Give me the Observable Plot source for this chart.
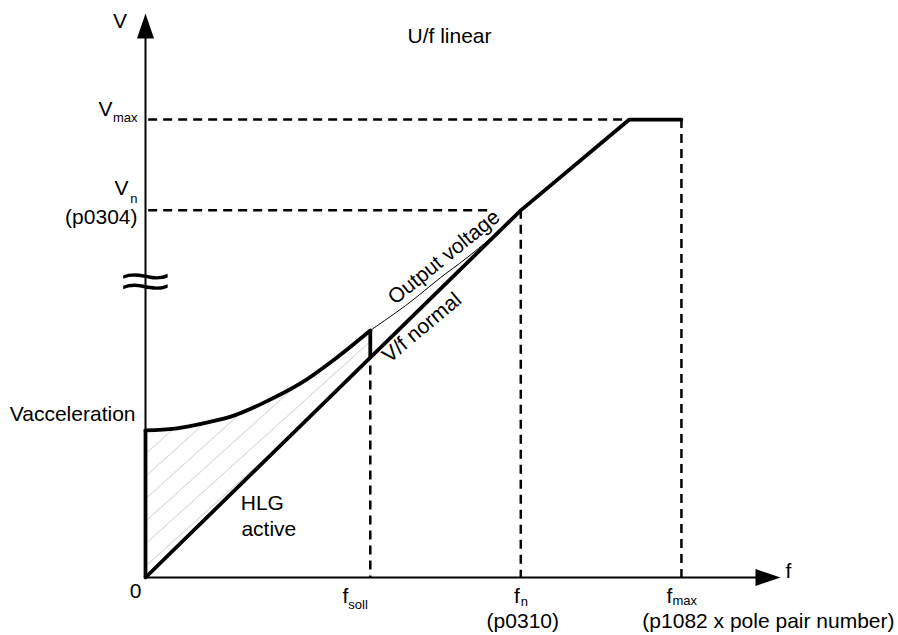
<!DOCTYPE html>
<html><head><meta charset="utf-8">
<script src="https://cdn.jsdelivr.net/npm/d3@7"></script>
<script src="https://cdn.jsdelivr.net/npm/@observablehq/plot@0.6"></script>
<style>html,body{margin:0;padding:0;background:#fff;} svg{display:block;}</style>
</head><body><div id="chart"></div>
<script>
// ---- values (schematic units) ----
const fSoll = 35.4, fN = 59.1, fMax = 84.4, fVmaxReached = 76.2;
const vAccel = 26.1, vN = 65.1, vMax = 81.2, vBreak = 52.3;
const fAxisEnd = 100, vAxisEnd = 100;
// V/f normal characteristic
const vfF = [0, fN, fVmaxReached, fMax];
const vfV = [0, vN, vMax, vMax];
// output voltage while HLG active (thick) and its continuation (thin)
const outF = [0, 4.7, 9.8, 13.9, 18.1, 24.4, 29.9, fSoll];
const outV = [26.1, 26.4, 27.5, 28.7, 30.7, 34.4, 38.8, 43.8];
const outThinF = [fSoll, 41.3, 46.5, 50.4, 54.3, 56.7];
const outThinV = [43.8, 48.5, 53.2, 56.5, 60.1, 62.5];
// texts
const title = "U/f linear";
const axisNames = ["V", "f"];
const breakSymbol = "\u2248";
const vLabels = ["V", "max", "V", "n", "(p0304)", "Vacceleration", "0"];
const fLabels = ["f", "soll", "f", "n", "(p0310)", "f", "max", "(p1082 x pole pair number)"];
const curveLabels = ["Output voltage", "V/f normal", "HLG", "active"];

const font = "'Liberation Sans', Arial, sans-serif";
const vf = f => vN * f / fN;
const vfData = vfF.map((f, i) => ({f, v: vfV[i]}));
const outData = outF.map((f, i) => ({f, v: outV[i]}));
const outThinData = outThinF.map((f, i) => ({f, v: outThinV[i]}));
const hatchData = outF.map((f, i) => ({f, top: outV[i], bottom: vf(f)}));

const arrowUp = {draw(ctx){ctx.moveTo(0,0);ctx.lineTo(8.5,25);ctx.lineTo(-8.5,25);ctx.closePath();}};
const arrowRight = {draw(ctx){ctx.moveTo(0,0);ctx.lineTo(-25,8.5);ctx.lineTo(-25,-8.5);ctx.closePath();}};

const lab = (text, x, y, o = {}) => Plot.text([text], {
  x: () => x, y: () => y, text: d => d, fontSize: 21, fontFamily: font,
  fill: "black", lineAnchor: "bottom", ...o
});
const dash = {stroke: "black", strokeWidth: 2.5, strokeDasharray: "9,6"};

const chart = Plot.plot({
  width: 898, height: 635,
  marginLeft: 145, marginBottom: 58, marginTop: 13, marginRight: 118,
  x: {domain: [0, 100], axis: null},
  y: {domain: [0, 100], axis: null},
  style: {background: "#fff", overflow: "visible"},
  marks: [
    Plot.areaY(hatchData, {x: "f", y1: "bottom", y2: "top", fill: "url(#hatch)", curve: "catmull-rom"}),
    // dashed guides
    Plot.ruleY([vMax], {x1: 0.5, x2: fVmaxReached, ...dash}),
    Plot.ruleY([vN], {x1: 0.5, x2: 54.3, ...dash}),
    Plot.ruleX([fMax], {y1: vMax, y2: 0, ...dash}),
    Plot.ruleX([fN], {y1: vN, y2: 0, ...dash}),
    Plot.ruleX([fSoll], {y1: vf(fSoll) - 1.5, y2: 0, ...dash}),
    // axes
    Plot.ruleX([0], {y1: 0, y2: vAxisEnd - 4.4, stroke: "black", strokeWidth: 2}),
    Plot.ruleY([0], {x1: 0, x2: fAxisEnd - 2.7, stroke: "black", strokeWidth: 2}),
    Plot.dot([0], {x: () => 0, y: () => vAxisEnd, symbol: arrowUp, fill: "black", stroke: "none"}),
    Plot.dot([0], {x: () => fAxisEnd, y: () => 0, symbol: arrowRight, fill: "black", stroke: "none"}),
    // curves
    Plot.ruleX([0], {y1: 0, y2: vAccel, stroke: "black", strokeWidth: 3.8}),
    Plot.line(vfData, {x: "f", y: "v", stroke: "black", strokeWidth: 3.8, strokeLinejoin: "miter"}),
    Plot.line(outData, {x: "f", y: "v", stroke: "black", strokeWidth: 3.8, curve: "catmull-rom"}),
    Plot.ruleX([fSoll], {y1: vf(fSoll), y2: outV[outV.length - 1], stroke: "black", strokeWidth: 3.8}),
    Plot.line(outThinData, {x: "f", y: "v", stroke: "black", strokeWidth: 1, curve: "catmull-rom"}),
    // break symbol
    Plot.text([breakSymbol], {x: () => 0, y: () => vBreak, text: d => d, fontFamily: font, fontSize: 50, fill: "black", lineAnchor: "middle", dy: -1, className: "axis-break"}),
    // title & axis names
    Plot.text([title], {frameAnchor: "top-left", text: d => d, dx: 262, dy: 29, fontSize: 21, fontFamily: font, fill: "black", lineAnchor: "bottom"}),
    lab(axisNames[0], 0, vAxisEnd, {dx: -25.5, dy: 14}),
    lab(axisNames[1], fAxisEnd, 0, {textAnchor: "start", dx: 5, dy: 0}),
    // V-axis labels
    lab(vLabels[0], 0, vMax, {textAnchor: "end", dx: -33, dy: -4}),
    lab(vLabels[1], 0, vMax, {textAnchor: "end", dx: -8, dy: 2, fontSize: 13}),
    lab(vLabels[2], 0, vN, {textAnchor: "end", dx: -17, dy: -15}),
    lab(vLabels[3], 0, vN, {textAnchor: "end", dx: -8, dy: -7, fontSize: 13}),
    lab(vLabels[4], 0, vN, {textAnchor: "end", dx: -8, dy: 14}),
    lab(vLabels[5], 0, vAccel, {textAnchor: "end", dx: -10, dy: -9}),
    lab(vLabels[6], 0, 0, {dx: -10, dy: 20}),
    // f-axis labels
    lab(fLabels[0], fSoll, 0, {textAnchor: "end", dx: -22, dy: 25}),
    lab(fLabels[1], fSoll, 0, {textAnchor: "start", dx: -22, dy: 31, fontSize: 13}),
    lab(fLabels[2], fN, 0, {textAnchor: "end", dx: -1, dy: 25}),
    lab(fLabels[3], fN, 0, {textAnchor: "start", dx: 0, dy: 28, fontSize: 13}),
    lab(fLabels[4], fN, 0, {dx: 2, dy: 50}),
    lab(fLabels[5], fMax, 0, {textAnchor: "end", dx: -9, dy: 25}),
    lab(fLabels[6], fMax, 0, {textAnchor: "start", dx: -9, dy: 27, fontSize: 13}),
    lab(fLabels[7], fMax, 0, {dx: 87, dy: 50}),
    // curve labels
    lab(curveLabels[0], 47.0, 56.8, {rotate: -39, lineAnchor: "middle"}),
    lab(curveLabels[1], 43.5, 44.3, {rotate: -40, lineAnchor: "middle"}),
    lab(curveLabels[2], 15.0, 11.9, {textAnchor: "start"}),
    lab(curveLabels[3], 15.1, 7.4, {textAnchor: "start"})
  ]
});

// hatch pattern for the HLG-active region
const defs = d3.select(chart).insert("defs", ":first-child");
const pat = defs.append("pattern").attr("id", "hatch").attr("patternUnits", "userSpaceOnUse")
  .attr("width", 16.7).attr("height", 16.7).attr("patternTransform", "rotate(48)");
pat.append("line").attr("x1", 0).attr("y1", 0).attr("x2", 0).attr("y2", 16.7)
  .attr("stroke", "#bdbdbd").attr("stroke-width", 1.2);
// widen the axis-break glyph horizontally
d3.select(chart).selectAll("g.axis-break text").each(function() {
  const t = this.getAttribute("transform") || "";
  this.setAttribute("transform", t + " scale(1.8,1)");
});
document.getElementById("chart").appendChild(chart);
</script></body></html>
